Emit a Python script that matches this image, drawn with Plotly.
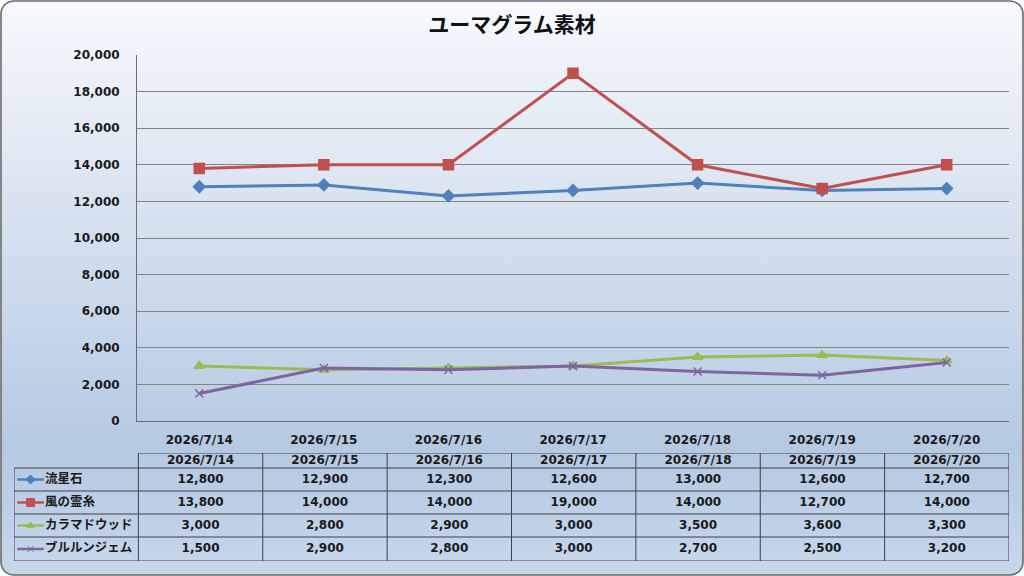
import base64

import plotly.graph_objects as go

# chart data
dates = ["2026/7/14", "2026/7/15", "2026/7/16", "2026/7/17", "2026/7/18", "2026/7/19", "2026/7/20"]
series_names = ["流星石", "風の霊糸", "カラマドウッド", "ブルルンジェム"]
ryuseiseki = [12800, 12900, 12300, 12600, 13000, 12600, 12700]
kaze_no_reishi = [13800, 14000, 14000, 19000, 14000, 12700, 14000]
karamadowood = [3000, 2800, 2900, 3000, 3500, 3600, 3300]
bururungem = [1500, 2900, 2800, 3000, 2700, 2500, 3200]
y_ticks = [0, 2000, 4000, 6000, 8000, 10000, 12000, 14000, 16000, 18000, 20000]

series_values = [ryuseiseki, kaze_no_reishi, karamadowood, bururungem]
colors = ["#4f81bd", "#c0504d", "#9bbb59", "#8064a2"]
symbols = ["diamond", "square", "triangle-up", "x-thin"]
marker_sizes = [9, 10, 9, 8]

W, H = 1024, 576
FONT = "DejaVu Sans, Noto Sans CJK JP"
JP_FONT = "Noto Sans CJK JP"
TXT = "#1a1a1a"


def px_x(p):
    return p / W


def px_y(p):
    return 1 - p / H


# rounded gradient card behind everything
svg = (
    f'<svg xmlns="http://www.w3.org/2000/svg" width="{W}" height="{H}" viewBox="0 0 {W} {H}">'
    '<defs><linearGradient id="g" x1="0" y1="0" x2="0" y2="1">'
    '<stop offset="0" stop-color="#f7f9fd"/>'
    '<stop offset="0.78" stop-color="#b5c9e2"/>'
    '<stop offset="1" stop-color="#c7d7eb"/>'
    '</linearGradient></defs>'
    f'<rect x="1" y="1" width="{W - 2}" height="{H - 2}" rx="13" ry="13" '
    'fill="url(#g)" stroke="#6a6a6a" stroke-width="1.6"/></svg>'
)
bg_src = "data:image/svg+xml;base64," + base64.b64encode(svg.encode()).decode()

fig = go.Figure()

for name, vals, col, sym, ms in zip(series_names, series_values, colors, symbols, marker_sizes):
    fig.add_trace(go.Scatter(
        x=dates, y=vals, name=name, mode="lines+markers",
        line=dict(color=col, width=3),
        marker=dict(symbol=sym, size=ms, color=col, line=dict(color=col, width=1.5)),
        xaxis="x", yaxis="y", showlegend=False, cliponaxis=False,
    ))

# ---- data table under the chart (x3 in column units, y3 in pixel rows)
row_edges = [453, 468, 491, 514, 537, 561]
row_mid = [(row_edges[i] + row_edges[i + 1]) / 2 for i in range(len(row_edges) - 1)]
col_idx = list(range(len(dates)))
cell_font = dict(family=FONT, size=12, color=TXT, weight="bold")

fig.add_trace(go.Scatter(
    x=col_idx, y=[row_mid[0]] * len(dates), text=dates, mode="text",
    textfont=cell_font, xaxis="x3", yaxis="y3", showlegend=False, hoverinfo="skip",
))
for r, (name, vals, col, sym, ms) in enumerate(zip(series_names, series_values, colors, symbols, marker_sizes)):
    ym = row_mid[r + 1]
    fig.add_trace(go.Scatter(
        x=col_idx, y=[ym] * len(vals), text=[f"{v:,}" for v in vals], mode="text",
        textfont=cell_font, xaxis="x3", yaxis="y3", showlegend=False, hoverinfo="skip",
    ))
    # legend key inside the label column
    fig.add_trace(go.Scatter(
        x=[-1.474, -1.26], y=[ym, ym], mode="lines",
        line=dict(color=col, width=2.5),
        xaxis="x3", yaxis="y3", showlegend=False, hoverinfo="skip",
    ))
    fig.add_trace(go.Scatter(
        x=[-1.367], y=[ym], mode="markers",
        marker=dict(symbol=sym, size=ms - 2, color=col, line=dict(color=col, width=1)),
        xaxis="x3", yaxis="y3", showlegend=False, hoverinfo="skip",
    ))
    fig.add_trace(go.Scatter(
        x=[-1.25], y=[ym], text=[name], mode="text", textposition="middle right",
        textfont=dict(family=JP_FONT, size=12.5, color=TXT, weight="bold"),
        xaxis="x3", yaxis="y3", showlegend=False, hoverinfo="skip",
    ))

grid_col = "#404040"
shapes = []
# horizontal table lines
shapes.append(dict(type="line", xref="x3", yref="y3", x0=-0.5, x1=6.5,
                   y0=row_edges[0], y1=row_edges[0], line=dict(color=grid_col, width=1)))
for yy in row_edges[1:]:
    shapes.append(dict(type="line", xref="x3", yref="y3", x0=-1.5, x1=6.5,
                       y0=yy, y1=yy, line=dict(color=grid_col, width=1)))
# vertical table lines
shapes.append(dict(type="line", xref="x3", yref="y3", x0=-1.5, x1=-1.5,
                   y0=row_edges[1], y1=row_edges[-1], line=dict(color=grid_col, width=1)))
for i in range(len(dates) + 1):
    xx = i - 0.5
    shapes.append(dict(type="line", xref="x3", yref="y3", x0=xx, x1=xx,
                       y0=row_edges[0], y1=row_edges[-1], line=dict(color=grid_col, width=1)))

tick_font = dict(family=FONT, size=12, color=TXT, weight="bold")

fig.update_layout(
    width=W, height=H,
    margin=dict(l=0, r=0, t=0, b=0, autoexpand=False),
    paper_bgcolor="white",
    plot_bgcolor="white",
    images=[dict(source=bg_src, xref="paper", yref="paper", x=0, y=1, sizex=1, sizey=1,
                 sizing="stretch", xanchor="left", yanchor="top", layer="below")],
    title=dict(text="ユーマグラム素材", x=0.5, xanchor="center", y=px_y(25), yanchor="middle",
               font=dict(family=JP_FONT, size=21, color="#111111", weight="bold")),
    xaxis=dict(domain=[px_x(137), px_x(1009)], type="category", range=[-0.5, 6.5],
               showgrid=False, showline=True, linecolor="#6e6e6e", linewidth=1,
               ticks="", tickfont=tick_font, ticklabelstandoff=8, automargin=False,
               fixedrange=True),
    yaxis=dict(domain=[px_y(421), px_y(55)], range=[0, 20000], tickvals=y_ticks,
               tickformat=",", showgrid=True, gridcolor="#858585", gridwidth=1,
               showline=True, linecolor="#6e6e6e", linewidth=1, zeroline=False,
               ticks="", tickfont=tick_font, ticklabelstandoff=14, automargin=False,
               fixedrange=True),
    xaxis3=dict(domain=[px_x(14), px_x(1009)], range=[-1.5, 6.5], visible=False,
                anchor="y3", fixedrange=True),
    yaxis3=dict(domain=[px_y(561), px_y(453)], range=[561, 453], visible=False,
                anchor="x3", fixedrange=True),
    shapes=shapes,
    showlegend=False,
)

fig.write_html("out.html", config={"displayModeBar": False},
               post_script="document.body.style.margin = '0';")
